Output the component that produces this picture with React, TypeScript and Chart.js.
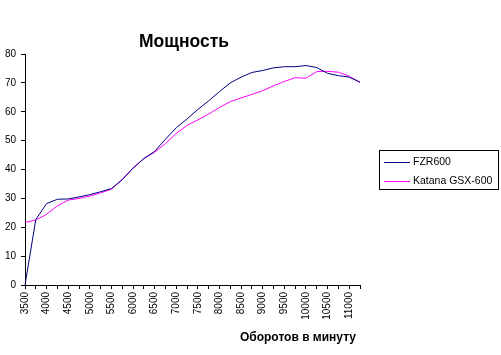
import React, { useEffect, useRef } from "react";
import { Chart, registerables } from "chart.js";

Chart.register(...registerables);

const rpm: string[] = [
  "3500", "3750", "4000", "4250", "4500", "4750", "5000", "5250",
  "5500", "5750", "6000", "6250", "6500", "6750", "7000", "7250",
  "7500", "7750", "8000", "8250", "8500", "8750", "9000", "9250",
  "9500", "9750", "10000", "10250", "10500", "10750", "11000", "11250",
];

const fzr600: number[] = [
  0, 22.7, 28.2, 29.7, 29.8, 30.5, 31.3, 32.3,
  33.4, 36.5, 40.5, 43.8, 46.3, 50.5, 54.5, 57.5,
  60.8, 63.8, 67.0, 70.0, 72.0, 73.6, 74.3, 75.2,
  75.6, 75.6, 76.0, 75.3, 73.3, 72.5, 72.0, 70.2,
];

const katana: number[] = [
  21.7, 22.5, 24.5, 27.4, 29.4, 30.0, 30.8, 31.9,
  33.2, 36.5, 40.5, 43.8, 46.0, 49.0, 52.5, 55.3,
  57.2, 59.2, 61.5, 63.5, 64.8, 66.0, 67.3, 69.0,
  70.5, 71.8, 71.6, 73.9, 74.0, 73.7, 72.3, 70.2,
];

const seriesNames: string[] = ["FZR600", "Katana GSX-600"];
const chartTitle = "Мощность";
const xAxisTitle = "Оборотов в минуту";

const FONT = "Arial, 'Liberation Sans', sans-serif";

const decorPlugin = {
  id: "decor",
  afterDraw(chart: any) {
    const ctx = chart.ctx as CanvasRenderingContext2D;
    ctx.save();
    ctx.fillStyle = "#000";
    // Title
    ctx.font = `bold 17.5px ${FONT}`;
    ctx.textAlign = "center";
    ctx.textBaseline = "middle";
    ctx.fillText(chartTitle, 184, 42);
    // X axis title
    ctx.font = `bold 12px ${FONT}`;
    ctx.fillText(xAxisTitle, 298, 338);
    // Legend box
    ctx.strokeStyle = "#000";
    ctx.lineWidth = 1;
    ctx.strokeRect(379.5, 150.5, 119, 39);
    ctx.font = `10.5px ${FONT}`;
    ctx.textAlign = "left";
    const rows = [162, 180.5];
    chart.data.datasets.forEach((ds: any, i: number) => {
      const y = rows[i];
      ctx.strokeStyle = ds.borderColor;
      ctx.beginPath();
      ctx.moveTo(384, Math.round(y) + 0.5);
      ctx.lineTo(410, Math.round(y) + 0.5);
      ctx.stroke();
      ctx.fillStyle = "#000";
      ctx.fillText(ds.label, 413, y + 0.5);
    });
    ctx.restore();
  },
};

export default function App() {
  const ref = useRef<HTMLCanvasElement | null>(null);
  useEffect(() => {
    if (!ref.current) return;
    const chart = new Chart(ref.current, {
      type: "line",
      data: {
        labels: rpm,
        datasets: [
          {
            label: seriesNames[0],
            data: fzr600,
            borderColor: "#000080",
            borderWidth: 1,
            pointRadius: 0,
            tension: 0,
            fill: false,
          },
          {
            label: seriesNames[1],
            data: katana,
            borderColor: "#FF00FF",
            borderWidth: 1,
            pointRadius: 0,
            tension: 0,
            fill: false,
          },
        ],
      },
      options: {
        animation: false,
        responsive: false,
        maintainAspectRatio: false,
        layout: { padding: { left: 0, top: 54, right: 141, bottom: 0 } },
        plugins: {
          legend: { display: false },
          title: { display: false },
          tooltip: { enabled: false },
        },
        scales: {
          x: {
            type: "category",
            offset: false,
            afterFit(scale: any) {
              scale.height = 70;
            },
            grid: {
              display: true,
              drawOnChartArea: false,
              drawTicks: true,
              tickLength: 4,
              color: "#000",
            },
            border: { display: true, color: "#000", width: 1 },
            ticks: {
              autoSkip: false,
              minRotation: 90,
              maxRotation: 90,
              padding: 3,
              color: "#000",
              font: { family: FONT, size: 10 },
              callback: function (this: any, value: any, index: number) {
                return index % 2 === 0 ? this.getLabelForValue(value) : "";
              },
            },
          },
          y: {
            min: 0,
            max: 80,
            afterFit(scale: any) {
              scale.width = 25;
            },
            grid: {
              display: true,
              drawOnChartArea: false,
              drawTicks: true,
              tickLength: 4,
              color: "#000",
            },
            border: { display: true, color: "#000", width: 1 },
            ticks: {
              stepSize: 10,
              padding: 5,
              color: "#000",
              font: { family: FONT, size: 10 },
            },
          },
        },
      },
      plugins: [decorPlugin],
    });
    return () => chart.destroy();
  }, []);
  return (
    <div style={{ position: "absolute", left: 0, top: 0, width: 501, height: 355, background: "#fff" }}>
      <canvas ref={ref} width={501} height={355} style={{ width: 501, height: 355, display: "block" }} />
    </div>
  );
}
